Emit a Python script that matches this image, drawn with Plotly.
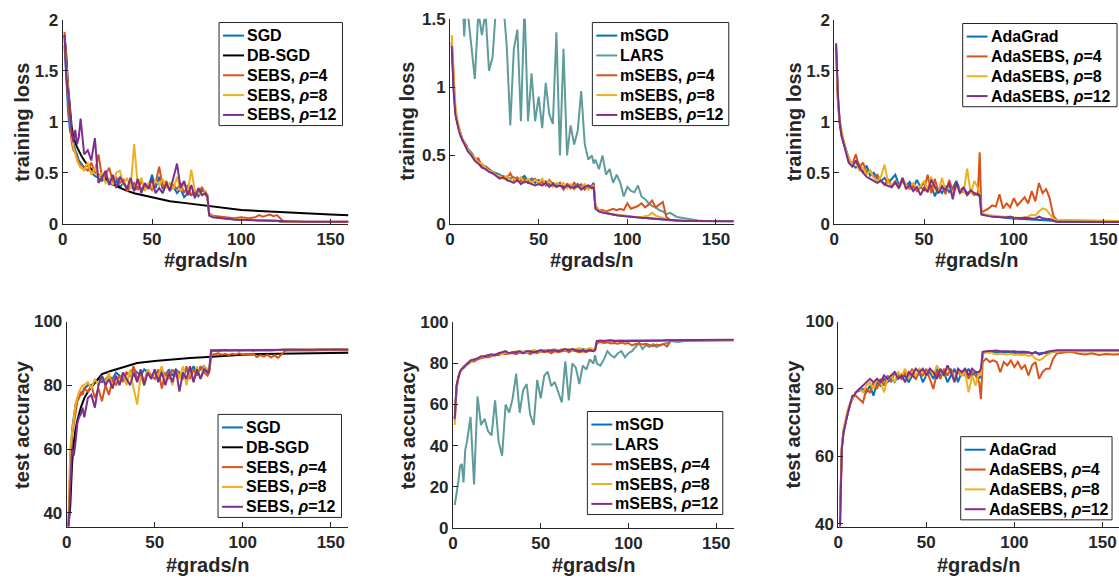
import plotly.graph_objects as go

W, H = 1119, 585
FONT = "Liberation Sans"
INK = "#262626"

# ---------------- x positions (epochs, #grads/n) ----------------
EP = [1, 2, 3, 4, 5, 6, 7, 8, 9, 10,
      12, 14, 16, 18, 20, 22, 24, 26, 28, 30, 32, 34, 36, 38, 40, 42, 44, 46, 48, 50,
      52, 54, 56, 58, 60, 62, 64, 66, 68, 70, 72, 74, 76, 78, 80,
      81, 82,
      84, 86, 88, 90, 92, 94, 96, 98, 100, 102, 104, 106, 108, 110, 112, 114, 116, 118, 120, 122, 124,
      128, 132, 136, 140, 144, 148, 152, 156, 160]
EP_DB = [1, 2, 3, 4, 5, 6, 8, 10, 12, 15, 20, 25, 30, 35, 40, 50, 60, 70, 80, 90, 100, 110, 120, 130, 140, 150, 160]

# ---------------- tick labels ----------------
X_TICKS = [0, 50, 100, 150]
Y_TICKS_LOSS = [0, 0.5, 1, 1.5, 2]
Y_TICKS_LOSS2 = [0, 0.5, 1, 1.5]
Y_TICKS_ACC1 = [40, 60, 80, 100]
Y_TICKS_ACC2 = [0, 20, 40, 60, 80, 100]
Y_TICKS_ACC3 = [40, 60, 80, 100]

# ================= Panel 1: SGD family, training loss =================
p1_sgd = [1.75, 1.40, 1.10, 0.92, 0.85, 0.78, 0.72, 0.68, 0.62, 0.60,
          0.55, 0.58, 0.50, 0.47, 0.45, 0.42, 0.46, 0.40, 0.38, 0.42,
          0.36, 0.40, 0.35, 0.38, 0.33, 0.36, 0.34, 0.38, 0.36, 0.48,
          0.35, 0.46, 0.34, 0.38, 0.33, 0.36, 0.30, 0.34, 0.26, 0.30,
          0.28, 0.31, 0.27, 0.33, 0.30,
          0.28, 0.09,
          0.07, 0.065, 0.06, 0.055, 0.05, 0.045, 0.045, 0.04, 0.04, 0.04, 0.038,
          0.035, 0.035, 0.035, 0.033, 0.032, 0.03, 0.03, 0.03, 0.02, 0.02,
          0.02, 0.019, 0.02, 0.018, 0.019, 0.018, 0.018, 0.017, 0.017]
p1_db = [1.85, 1.65, 1.35, 1.10, 0.95, 0.85, 0.75, 0.68, 0.62, 0.55, 0.48, 0.42, 0.37, 0.33,
         0.30, 0.26, 0.22, 0.20, 0.18, 0.155, 0.135, 0.125, 0.115, 0.105, 0.097, 0.09, 0.083]
p1_s4 = [1.88, 1.50, 1.20, 1.00, 0.80, 0.72, 0.70, 0.65, 0.60, 0.58,
         0.55, 0.52, 0.60, 0.50, 0.68, 0.45, 0.48, 0.55, 0.42, 0.45,
         0.40, 0.44, 0.32, 0.36, 0.40, 0.33, 0.42, 0.35, 0.38, 0.33,
         0.40, 0.56, 0.36, 0.42, 0.33, 0.38, 0.34, 0.40, 0.30, 0.38,
         0.28, 0.33, 0.30, 0.36, 0.28,
         0.26, 0.10,
         0.08, 0.075, 0.07, 0.065, 0.06, 0.06, 0.055, 0.06, 0.065, 0.06, 0.055,
         0.06, 0.065, 0.085, 0.07, 0.08, 0.09, 0.075, 0.085, 0.05, 0.02,
         0.02, 0.02, 0.02, 0.02, 0.02, 0.02, 0.02, 0.02, 0.02]
p1_s8 = [1.80, 1.55, 1.25, 1.05, 0.85, 0.75, 0.68, 0.62, 0.58, 0.55,
         0.52, 0.60, 0.48, 0.55, 0.45, 0.50, 0.40, 0.44, 0.38, 0.50,
         0.52, 0.38, 0.45, 0.35, 0.78, 0.38, 0.45, 0.32, 0.40, 0.36,
         0.42, 0.38, 0.44, 0.35, 0.40, 0.34, 0.46, 0.32, 0.40, 0.30,
         0.53, 0.32, 0.30, 0.28, 0.32,
         0.28, 0.09,
         0.07, 0.06, 0.055, 0.05, 0.05, 0.045, 0.045, 0.042, 0.04, 0.04, 0.04,
         0.038, 0.036, 0.035, 0.034, 0.033, 0.032, 0.03, 0.03, 0.025, 0.02,
         0.02, 0.02, 0.02, 0.02, 0.02, 0.02, 0.02, 0.02, 0.02]
p1_s12 = [1.85, 1.45, 1.30, 1.10, 0.88, 0.80, 0.92, 0.78, 0.85, 1.03,
          0.68, 0.72, 0.62, 0.84, 0.40, 0.45, 0.52, 0.38, 0.48, 0.35,
          0.46, 0.40, 0.34, 0.45, 0.32, 0.44, 0.30, 0.40, 0.34, 0.44,
          0.30, 0.35, 0.30, 0.40, 0.32, 0.45, 0.59, 0.35, 0.42, 0.28,
          0.38, 0.25, 0.35, 0.28, 0.30,
          0.27, 0.08,
          0.065, 0.06, 0.055, 0.05, 0.048, 0.045, 0.042, 0.04, 0.04, 0.038, 0.036,
          0.035, 0.034, 0.033, 0.032, 0.031, 0.03, 0.03, 0.028, 0.022, 0.02,
          0.02, 0.02, 0.02, 0.02, 0.02, 0.02, 0.02, 0.02, 0.02]

# ================= Panel 2: momentum family, training loss =================
p2_msgd = [1.32, 1.00, 0.82, 0.74, 0.70, 0.65, 0.62, 0.60, 0.57, 0.55,
           0.52, 0.48, 0.46, 0.43, 0.42, 0.40, 0.38, 0.37, 0.36, 0.34,
           0.34, 0.33, 0.34, 0.32, 0.33, 0.35, 0.31, 0.33, 0.30, 0.32,
           0.30, 0.31, 0.29, 0.30, 0.28, 0.30, 0.27, 0.29, 0.28, 0.27,
           0.29, 0.27, 0.28, 0.26, 0.28,
           0.30, 0.12,
           0.095, 0.085, 0.078, 0.072, 0.068, 0.064, 0.06, 0.058, 0.055, 0.052, 0.05,
           0.048, 0.046, 0.045, 0.043, 0.041, 0.04, 0.038, 0.036, 0.03, 0.025,
           0.022, 0.021, 0.02, 0.02, 0.02, 0.019, 0.019, 0.019, 0.018]
p2_lars = [2.50, 2.40, 2.20, 2.00, 1.90, 1.80, 1.70, 1.37, 1.60, 1.55,
           1.30, 1.06, 1.55, 1.38, 1.55, 1.12, 1.22, 1.60, 1.55, 1.62,
           1.30, 0.72, 1.28, 1.42, 0.75, 1.60, 0.75, 1.10, 0.75, 0.93,
           0.70, 1.03, 0.80, 0.73, 1.40, 0.50, 1.28, 0.50, 0.72, 0.58,
           0.68, 0.97, 0.58, 0.47, 0.50,
           0.44, 0.47,
           0.40, 0.50, 0.36, 0.40, 0.30, 0.36, 0.30, 0.20, 0.27, 0.24, 0.23,
           0.28, 0.20, 0.18, 0.15, 0.13, 0.12, 0.10, 0.09, 0.07, 0.08,
           0.05, 0.04, 0.03, 0.025, 0.02, 0.02, 0.02, 0.02, 0.02]
p2_ms4 = [1.33, 1.02, 0.84, 0.75, 0.70, 0.66, 0.61, 0.59, 0.58, 0.54,
          0.50, 0.47, 0.48, 0.42, 0.41, 0.40, 0.37, 0.36, 0.34, 0.35,
          0.33, 0.37, 0.32, 0.34, 0.31, 0.33, 0.30, 0.32, 0.33, 0.29,
          0.31, 0.28, 0.32, 0.29, 0.27, 0.30, 0.25, 0.29, 0.26, 0.30,
          0.27, 0.29, 0.25, 0.28, 0.27,
          0.29, 0.13,
          0.10, 0.10, 0.09, 0.10, 0.11, 0.10, 0.11, 0.10, 0.15, 0.11, 0.12,
          0.13, 0.15, 0.12, 0.14, 0.17, 0.12, 0.14, 0.16, 0.05, 0.03,
          0.025, 0.022, 0.021, 0.02, 0.02, 0.02, 0.02, 0.02, 0.02]
p2_ms8 = [1.38, 1.05, 0.86, 0.77, 0.71, 0.66, 0.62, 0.60, 0.56, 0.54,
          0.51, 0.48, 0.45, 0.44, 0.41, 0.39, 0.38, 0.36, 0.35, 0.33,
          0.35, 0.32, 0.33, 0.31, 0.34, 0.30, 0.33, 0.30, 0.32, 0.30,
          0.33, 0.29, 0.31, 0.27, 0.30, 0.28, 0.30, 0.26, 0.29, 0.25,
          0.28, 0.26, 0.29, 0.25, 0.27,
          0.28, 0.12,
          0.10, 0.09, 0.08, 0.075, 0.07, 0.066, 0.062, 0.06, 0.058, 0.055, 0.052,
          0.05, 0.05, 0.055, 0.06, 0.08, 0.06, 0.05, 0.045, 0.03, 0.025,
          0.022, 0.02, 0.02, 0.02, 0.02, 0.02, 0.02, 0.02, 0.02]
p2_ms12 = [1.30, 0.98, 0.80, 0.73, 0.68, 0.64, 0.61, 0.58, 0.56, 0.53,
           0.50, 0.46, 0.44, 0.41, 0.40, 0.38, 0.37, 0.35, 0.33, 0.34,
           0.32, 0.31, 0.30, 0.32, 0.29, 0.31, 0.30, 0.29, 0.28, 0.29,
           0.28, 0.30, 0.27, 0.29, 0.27, 0.28, 0.26, 0.28, 0.27, 0.26,
           0.28, 0.25, 0.27, 0.28, 0.26,
           0.27, 0.11,
           0.09, 0.082, 0.076, 0.07, 0.066, 0.062, 0.058, 0.055, 0.052, 0.05, 0.048,
           0.046, 0.044, 0.043, 0.041, 0.04, 0.038, 0.036, 0.034, 0.03, 0.025,
           0.022, 0.021, 0.02, 0.02, 0.02, 0.02, 0.019, 0.019, 0.019]

# ================= Panel 3: AdaGrad family, training loss =================
p3_ada = [1.75, 1.25, 1.00, 0.88, 0.82, 0.75, 0.70, 0.65, 0.60, 0.58,
          0.55, 0.58, 0.50, 0.57, 0.47, 0.50, 0.44, 0.42, 0.45, 0.40,
          0.44, 0.48, 0.38, 0.42, 0.37, 0.41, 0.35, 0.43, 0.36, 0.40,
          0.34, 0.38, 0.27, 0.35, 0.30, 0.37, 0.31, 0.35, 0.42, 0.33,
          0.35, 0.30, 0.32, 0.30, 0.28,
          0.27, 0.10,
          0.085, 0.08, 0.075, 0.07, 0.065, 0.06, 0.055, 0.055, 0.05, 0.05, 0.048,
          0.045, 0.045, 0.043, 0.042, 0.04, 0.04, 0.04, 0.038, 0.03, 0.02,
          0.02, 0.02, 0.02, 0.02, 0.02, 0.02, 0.02, 0.02, 0.02]
p3_a4 = [1.72, 1.20, 0.98, 0.86, 0.80, 0.74, 0.68, 0.62, 0.60, 0.58,
         0.68, 0.55, 0.60, 0.50, 0.52, 0.46, 0.48, 0.42, 0.38, 0.44,
         0.36, 0.40, 0.35, 0.42, 0.38, 0.34, 0.38, 0.32, 0.36, 0.33,
         0.48, 0.30, 0.44, 0.31, 0.38, 0.29, 0.43, 0.32, 0.40, 0.30,
         0.34, 0.28, 0.32, 0.28, 0.30,
         0.70, 0.11,
         0.13, 0.15, 0.18, 0.17, 0.29, 0.15, 0.20, 0.16, 0.25, 0.18, 0.22,
         0.26, 0.20, 0.32, 0.22, 0.40, 0.30, 0.34, 0.25, 0.08, 0.035,
         0.035, 0.03, 0.032, 0.03, 0.028, 0.035, 0.03, 0.03, 0.028]
p3_a8 = [1.70, 1.22, 1.02, 0.90, 0.83, 0.75, 0.69, 0.64, 0.62, 0.58,
         0.60, 0.52, 0.55, 0.48, 0.52, 0.45, 0.42, 0.46, 0.58, 0.40,
         0.38, 0.42, 0.36, 0.45, 0.38, 0.35, 0.40, 0.34, 0.37, 0.42,
         0.33, 0.46, 0.35, 0.30, 0.45, 0.33, 0.38, 0.30, 0.36, 0.34,
         0.30, 0.54, 0.30, 0.42, 0.35,
         0.30, 0.11,
         0.09, 0.085, 0.08, 0.08, 0.075, 0.07, 0.07, 0.065, 0.065, 0.06, 0.06,
         0.065, 0.07, 0.09, 0.08, 0.12, 0.15, 0.14, 0.10, 0.05, 0.03,
         0.03, 0.028, 0.03, 0.028, 0.03, 0.028, 0.03, 0.03, 0.028]
p3_a12 = [1.77, 1.28, 1.00, 0.87, 0.80, 0.74, 0.66, 0.60, 0.58, 0.56,
          0.62, 0.55, 0.50, 0.46, 0.44, 0.42, 0.40, 0.42, 0.39, 0.37,
          0.36, 0.41, 0.35, 0.45, 0.34, 0.38, 0.32, 0.36, 0.28, 0.35,
          0.31, 0.43, 0.37, 0.30, 0.36, 0.33, 0.40, 0.24, 0.41, 0.30,
          0.36, 0.28, 0.33, 0.30, 0.29,
          0.28, 0.09,
          0.08, 0.075, 0.07, 0.068, 0.066, 0.064, 0.062, 0.07, 0.06, 0.058, 0.055,
          0.06, 0.055, 0.053, 0.05, 0.07, 0.055, 0.05, 0.048, 0.03, 0.02,
          0.02, 0.02, 0.02, 0.018, 0.018, 0.018, 0.018, 0.018, 0.018]

# ================= Panel 4: SGD family, test accuracy =================
p4_sgd = [36, 55, 66, 70, 74, 76, 77, 77, 78, 79,
          80, 80, 81, 82, 81, 82, 83, 82, 84, 83,
          82, 84, 83, 85, 84, 83, 85, 84, 83, 84,
          82, 85, 83, 85, 83, 85, 84, 82, 85, 84,
          86, 84, 85, 86, 84,
          85, 90.5,
          90.8, 90.7, 90.9, 91, 90.8, 90.9, 91, 90.8, 91, 90.9, 91,
          90.8, 91, 90.9, 91, 91, 90.9, 91, 91, 91.1, 91.2,
          91.2, 91.1, 91.2, 91.1, 91.2, 91.1, 91.2, 91.2, 91.1]
p4_db = [36, 42, 55, 62, 66, 69, 73, 76, 78, 80, 83.5, 84.5, 85.3, 86.3, 87, 87.6, 88.2,
         88.6, 88.9, 89.3, 89.6, 89.8, 89.9, 90, 90.1, 90.2, 90.2]
p4_s4 = [35, 58, 64, 68, 72, 75, 76, 78, 77, 79,
         78, 80, 76, 79, 75, 80, 77, 82, 80, 83,
         81, 84, 83, 86, 82, 84, 81, 85, 83, 82,
         85, 79, 84, 82, 85, 83, 84, 82, 86, 82,
         85, 83, 86, 84, 83,
         84, 89.5,
         89.8, 90, 89.6, 89.8, 89.5, 89.9, 89.7, 90, 89.6, 89.8, 89.5,
         89.9, 88.9, 89.5, 89, 89.6, 88.7, 89.4, 88.6, 89.8, 90.8,
         91, 90.9, 91, 90.9, 91, 90.9, 91, 91, 90.9]
p4_s8 = [35, 60, 65, 70, 74, 76, 78, 79, 80, 80,
         81, 79, 82, 80, 83, 81, 84, 79, 83, 81,
         84, 80, 85, 79, 74, 83, 80, 85, 82, 84,
         83, 86, 81, 84, 80, 85, 82, 86, 80, 85,
         81, 86, 82, 86, 85,
         85.5, 91,
         91, 91.1, 90.9, 91, 91.1, 91, 90.9, 91, 91.1, 91, 90.9,
         91, 91, 91.1, 91, 90.9, 91, 91, 91.1, 91, 91.2,
         91.2, 91.2, 91.1, 91.2, 91.2, 91.1, 91.2, 91.2, 91.2]
p4_s12 = [35, 50, 60, 58, 62, 68, 70, 71, 73, 70,
          76, 77, 73, 80, 83, 80, 82, 79, 83, 80,
          84, 82, 80, 84, 81, 85, 80, 84, 82, 85,
          81, 84, 80, 84, 81, 85, 78, 84, 82, 86,
          81, 85, 82, 85, 84,
          85, 91,
          91, 91.1, 91, 91.1, 91, 91, 91.1, 91, 91.1, 91, 91,
          91.1, 91, 91.1, 91, 91.1, 91, 91.1, 91, 91.2, 91.2,
          91.2, 91.2, 91.2, 91.2, 91.2, 91.2, 91.2, 91.2, 91.2]

# ================= Panel 5: momentum family, test accuracy =================
p5_msgd = [52, 68, 73, 76, 77, 78, 79, 79.5, 80, 81,
           81.5, 82.5, 83, 83, 83.5, 84, 84, 84.5, 85, 85,
           85, 85.5, 85, 85.5, 85.5, 86, 85.5, 86, 85.5, 86,
           86, 86.5, 86, 86, 86.5, 86, 86.5, 86, 87, 86.5,
           86.5, 87, 86.5, 87, 86.5,
           87, 90.5,
           91, 91, 91.2, 91, 91.2, 91.1, 91, 91.2, 91.1, 91, 91.2,
           91.1, 91, 91.2, 91, 91.1, 91.2, 91, 91.2, 91.3, 91.3,
           91.4, 91.3, 91.4, 91.4, 91.5, 91.4, 91.5, 91.5, 91.5]
p5_lars = [11, 16, 22, 30, 31, 22, 38, 42, 47, 54,
           21, 64, 50, 53, 47, 45, 62, 42, 35, 60,
           56, 63, 75, 56, 67, 70, 55, 50, 72, 63,
           74, 76, 69, 71, 66, 61, 81, 62, 80, 78,
           70, 79, 77, 82, 80,
           84, 80,
           79, 82, 86, 84, 83, 85, 86, 83, 85, 86, 88,
           90, 87, 89, 88, 89.5, 88, 89, 89.5, 90, 91,
           90.5, 91, 91, 91.2, 91, 91.2, 91.3, 91.2, 91.3]
p5_ms4 = [53, 69, 73, 76, 77, 78.5, 79, 80, 80, 81,
          81, 82, 82.5, 83, 83, 83.5, 84.5, 84, 85, 84.5,
          85, 85, 84.5, 85.5, 85, 85.5, 84.5, 85.5, 85, 86,
          85.5, 86, 85, 86, 85.5, 86, 86.5, 85.5, 86.5, 86,
          85.5, 86, 85.5, 86.5, 86,
          86.5, 90,
          90.5, 90, 90.3, 89.8, 90, 89.6, 90.2, 89.7, 90, 88.8, 89.5,
          89.7, 89.3, 89.6, 89, 88.5, 89.2, 88.8, 89.5, 88.3, 91,
          91.2, 91.4, 91.5, 91.3, 91.5, 91.4, 91.3, 91.4, 91.3]
p5_ms8 = [50, 67, 72, 75.5, 77, 78, 79, 80, 80.5, 81,
          82, 82.5, 83, 83.5, 84, 84, 84.5, 85, 84.5, 85.5,
          85, 85.5, 86, 85.5, 86, 85.5, 86, 86.5, 86, 86,
          86.5, 86, 86.5, 87, 86.5, 87, 86.5, 87, 86.5, 87,
          87.5, 86.5, 87, 87.5, 87,
          87, 91,
          91, 91.1, 91, 91.2, 91, 91.1, 91, 91.2, 91, 91.1, 91.2,
          91, 91.1, 91.2, 91, 91.2, 91.1, 91, 91.2, 91.2, 91.3,
          91.3, 91.4, 91.4, 91.3, 91.4, 91.5, 91.4, 91.5, 91.5]
p5_ms12 = [53, 69, 73, 76, 77.5, 78, 79, 80, 80.5, 81.5,
           82, 82.5, 83.5, 83.5, 84, 84.5, 84, 85, 85.5, 86,
           85, 85.5, 85.5, 86, 85, 86, 86, 85.5, 86, 86.5,
           86, 86, 86.5, 86.5, 86, 86.5, 87, 86.5, 87, 86.5,
           86, 86.5, 86, 86.5, 86,
           86.5, 91,
           91.2, 91, 91.2, 91.3, 91, 91.2, 91.1, 91, 91.1, 91, 91.1,
           91, 91.1, 91, 91, 91.1, 91.1, 91, 91.2, 91.3, 91.4,
           91.4, 91.5, 91.5, 91.5, 91.5, 91.6, 91.5, 91.6, 91.6]

# ================= Panel 6: AdaGrad family, test accuracy =================
p6_ada = [45, 62, 68, 70, 72, 74, 76, 77, 78, 79,
          79.5, 80, 79, 81, 78, 82, 81, 83, 82, 83,
          82, 84, 83, 84, 82, 84, 83, 85, 82, 84,
          85, 83, 86, 84, 85, 82, 84, 86, 82, 85,
          84, 86, 84, 85, 83,
          84, 90.5,
          91, 90.8, 91, 90.9, 91, 90.8, 91, 90.9, 90.8, 90.6, 90.8,
          90.7, 90.9, 90.6, 90.8, 90.5, 90.7, 90.6, 90.8, 91, 91.2,
          91.3, 91.2, 91.3, 91.2, 91.3, 91.3, 91.2, 91.3, 91.3]
p6_a4 = [40, 63, 67, 70, 72, 74, 76, 77, 78, 78,
         77, 76, 80, 79, 82, 80, 83, 81, 84, 82,
         85, 84, 83, 85, 84, 86, 83, 85, 84, 86,
         83, 80, 85, 83, 86, 84, 86, 83, 85, 84,
         86, 83, 85, 84, 82,
         77, 88,
         89, 88, 88.5, 88, 85, 88, 87, 88.5, 86.5, 88, 86,
         87, 84, 87, 88, 83, 85, 86, 86, 89, 90.5,
         90.8, 91, 90.5, 90.2, 90.6, 90.1, 90.4, 90.2, 90.3]
p6_a8 = [42, 63, 68, 71, 73, 75, 76, 77, 78, 79,
         80, 79, 81, 82, 80, 83, 82, 79, 83, 84,
         82, 85, 84, 86, 83, 85, 84, 86, 85, 84,
         86, 84, 87, 85, 84, 86, 85, 83, 86, 84,
         85, 79, 84, 81, 85,
         84, 90.5,
         90.8, 91, 90.5, 90.2, 90.5, 90.4, 90.2, 90.4, 90.1, 90.3, 90,
         90.2, 89.8, 90, 89, 88.5, 89, 90, 90.5, 91, 91.2,
         91.2, 91.1, 91.3, 91.2, 91.3, 91.2, 91.3, 91.3, 91.2]
p6_a12 = [38, 62, 67, 70, 72, 74, 76, 78, 78, 79,
          80, 81, 82, 83, 82, 83, 82, 84, 83, 84,
          85, 83, 84, 82, 85, 84, 86, 85, 86, 84,
          86, 85, 83, 86, 84, 87, 85, 82, 86, 85,
          86, 84, 86, 85, 85,
          86, 91,
          91.2, 91.3, 91.2, 91.4, 91.2, 91.3, 91.2, 91.1, 91.2, 91, 91.1,
          91, 90.8, 90.5, 91, 90.2, 90.5, 91, 91.2, 91.4, 91.5,
          91.5, 91.5, 91.6, 91.5, 91.6, 91.5, 91.6, 91.6, 91.5]

# ---------------- styling ----------------
C_BLUE = "#0072BD"
C_ORANGE = "#D95319"
C_YELLOW = "#EDB120"
C_PURPLE = "#7E2F8E"
C_BLACK = "#000000"
C_LARS = "#5E9C9C"
RHO = "<i>ρ</i>"

panels = [
    dict(px=(58, 345), py=(11, 222), xr=[0, 160], yr=[0, 2], yt=Y_TICKS_LOSS,
         ylab="training loss", ylx=17, leg=(215, 14, 339),
         traces=[("SGD", EP, p1_sgd, C_BLUE), ("DB-SGD", EP_DB, p1_db, C_BLACK),
                 (f"SEBS, {RHO}=4", EP, p1_s4, C_ORANGE), (f"SEBS, {RHO}=8", EP, p1_s8, C_YELLOW),
                 (f"SEBS, {RHO}=12", EP, p1_s12, C_PURPLE)]),
    dict(px=(447, 732), py=(10, 222), xr=[0, 160], yr=[0, 1.5], yt=Y_TICKS_LOSS2,
         ylab="training loss", ylx=404, leg=(590, 14, 727),
         traces=[("mSGD", EP, p2_msgd, C_BLUE), ("LARS", EP, p2_lars, C_LARS),
                 (f"mSEBS, {RHO}=4", EP, p2_ms4, C_ORANGE), (f"mSEBS, {RHO}=8", EP, p2_ms8, C_YELLOW),
                 (f"mSEBS, {RHO}=12", EP, p2_ms12, C_PURPLE)]),
    dict(px=(833, 1119), py=(11, 222), xr=[0, 158.6], yr=[0, 2], yt=Y_TICKS_LOSS,
         ylab="training loss", ylx=792, leg=(962, 15, 1117),
         traces=[("AdaGrad", EP, p3_ada, C_BLUE),
                 (f"AdaSEBS, {RHO}=4", EP, p3_a4, C_ORANGE), (f"AdaSEBS, {RHO}=8", EP, p3_a8, C_YELLOW),
                 (f"AdaSEBS, {RHO}=12", EP, p3_a12, C_PURPLE)]),
    dict(px=(62, 345), py=(323, 535), xr=[0, 160], yr=[35.7, 100], yt=Y_TICKS_ACC1,
         ylab="test accuracy", ylx=17, leg=(214, 419, 338),
         traces=[("SGD", EP, p4_sgd, C_BLUE), ("DB-SGD", EP_DB, p4_db, C_BLACK),
                 (f"SEBS, {RHO}=4", EP, p4_s4, C_ORANGE), (f"SEBS, {RHO}=8", EP, p4_s8, C_YELLOW),
                 (f"SEBS, {RHO}=12", EP, p4_s12, C_PURPLE)]),
    dict(px=(450, 732), py=(324, 536), xr=[0, 160], yr=[0, 100], yt=Y_TICKS_ACC2,
         ylab="test accuracy", ylx=405, leg=(585, 416, 721),
         traces=[("mSGD", EP, p5_msgd, C_BLUE), ("LARS", EP, p5_lars, C_LARS),
                 (f"mSEBS, {RHO}=4", EP, p5_ms4, C_ORANGE), (f"mSEBS, {RHO}=8", EP, p5_ms8, C_YELLOW),
                 (f"mSEBS, {RHO}=12", EP, p5_ms12, C_PURPLE)]),
    dict(px=(837, 1119), py=(323, 535), xr=[0, 159.4], yr=[39.2, 100], yt=Y_TICKS_ACC3,
         ylab="test accuracy", ylx=792, leg=(960, 442, 1112),
         traces=[("AdaGrad", EP, p6_ada, C_BLUE),
                 (f"AdaSEBS, {RHO}=4", EP, p6_a4, C_ORANGE), (f"AdaSEBS, {RHO}=8", EP, p6_a8, C_YELLOW),
                 (f"AdaSEBS, {RHO}=12", EP, p6_a12, C_PURPLE)]),
]

fig = go.Figure()
layout = dict(width=W, height=H, margin=dict(l=0, r=0, t=0, b=0),
              paper_bgcolor="white", plot_bgcolor="white", showlegend=False,
              font=dict(family=FONT, color=INK))
annotations = []
shapes = []
tickfont = dict(family=FONT, size=17, color=INK, weight="bold")
titlefont = dict(family=FONT, size=20, color=INK, weight="bold")
legfont = dict(family=FONT, size=16, color="#000000", weight="bold")


def px_x(v):
    return v / W


def px_y(v):
    return 1 - v / H


ROW_FIRST, ROW_STEP, ROW_PAD = 13.5, 20.5, 11

for i, p in enumerate(panels, start=1):
    sfx = "" if i == 1 else str(i)
    for name, xs, ys, col in p["traces"]:
        if len(xs) != len(ys):
            raise ValueError(f"panel {i} {name}: {len(xs)} x vs {len(ys)} y")
        fig.add_trace(go.Scatter(x=xs, y=ys, mode="lines", name=name,
                                 line=dict(color=col, width=2),
                                 xaxis=f"x{sfx}", yaxis=f"y{sfx}"))
    x0, x1 = p["px"]
    y0, y1 = p["py"]
    common = dict(showgrid=False, zeroline=False, showline=True, linecolor=INK, linewidth=1,
                  ticks="inside", ticklen=5, tickwidth=1, tickcolor=INK, mirror=False,
                  tickfont=tickfont, fixedrange=True)
    layout[f"xaxis{sfx}"] = dict(domain=[x0 / W, x1 / W], range=p["xr"], tickvals=X_TICKS,
                                 anchor=f"y{sfx}", **common)
    layout[f"yaxis{sfx}"] = dict(domain=[1 - y1 / H, 1 - y0 / H], range=p["yr"], tickvals=p["yt"],
                                 anchor=f"x{sfx}", **common)

    # legend box drawn by hand (MATLAB style)
    lx0, ly0, lx1 = p["leg"]
    n = len(p["traces"])
    ly1 = ly0 + ROW_FIRST + ROW_STEP * (n - 1) + ROW_PAD
    shapes.append(dict(type="rect", xref="paper", yref="paper",
                       x0=px_x(lx0), x1=px_x(lx1), y0=px_y(ly1), y1=px_y(ly0),
                       fillcolor="white", line=dict(color=INK, width=1), layer="above"))
    for k, (name, xs, ys, col) in enumerate(p["traces"]):
        ry = ly0 + ROW_FIRST + ROW_STEP * k
        shapes.append(dict(type="line", xref="paper", yref="paper",
                           x0=px_x(lx0 + 4), x1=px_x(lx0 + 25), y0=px_y(ry), y1=px_y(ry),
                           line=dict(color=col, width=2), layer="above"))
        annotations.append(dict(text=name, x=px_x(lx0 + 26), y=px_y(ry), xref="paper", yref="paper",
                                showarrow=False, font=legfont, xanchor="left", yanchor="middle"))

    # axis titles
    top_row = y0 < 100
    annotations.append(dict(text="#grads/n", x=(x0 + x1) / 2 / W, y=1 - (259 if top_row else 575) / H,
                            xref="paper", yref="paper", showarrow=False, font=titlefont,
                            xanchor="center", yanchor="middle"))
    annotations.append(dict(text=p["ylab"], x=p["ylx"] / W, y=1 - ((y0 + y1) / 2) / H,
                            xref="paper", yref="paper", showarrow=False, font=titlefont,
                            textangle=-90, xanchor="center", yanchor="middle"))

layout["annotations"] = annotations
layout["shapes"] = shapes
fig.update_layout(**layout)
fig.write_html("out.html", config={"displayModeBar": False},
               post_script="document.body.style.margin='0';document.body.style.padding='0';"
                           "document.body.style.overflow='hidden';")
